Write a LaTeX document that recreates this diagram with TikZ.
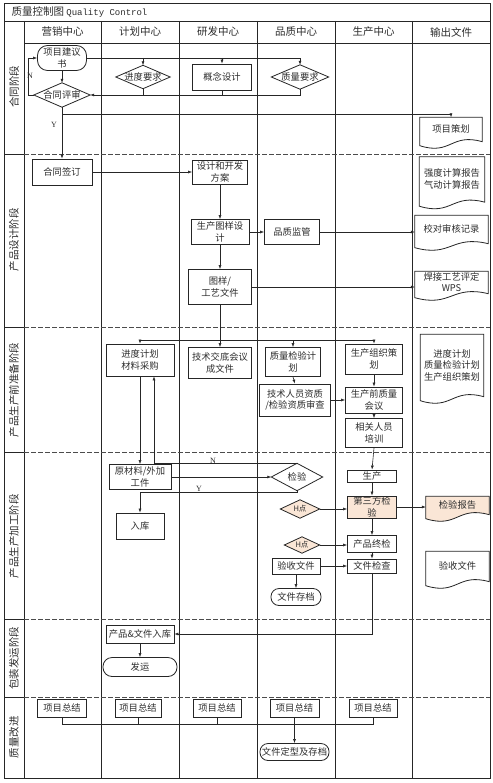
\documentclass[tikz,border=0pt]{standalone}
\usepackage{fontspec}
\setmainfont{Noto Sans CJK SC}
\newfontfamily\monoL{Liberation Mono}
\newfontfamily\serifL{Liberation Serif}
\usetikzlibrary{arrows.meta,calc}
\definecolor{beige}{RGB}{250,230,214}
\definecolor{ink}{RGB}{45,45,45}
\newcommand\fsN{\fontsize{9.3}{11.5}\selectfont}
\newcommand\fsH{\fontsize{10.5}{12}\selectfont}
\newcommand\fsS{\fontsize{7.5}{9}\selectfont}
\tikzset{
 grid/.style={line width=0.9pt, draw=black!85},
 sep/.style={line width=0.8pt, draw=black!70, dash pattern=on 5pt off 2pt},
 bx/.style={draw=black!85, line width=0.8pt, inner sep=1pt, align=center, font=\fsN, text=ink},
 ph/.style={rotate=90, font=\fsH, text=ink},
 hd/.style={font=\fsH, text=ink},
 ghost/.style={inner sep=0pt, draw=none},
 txt/.style={font=\fsN, text=ink, align=center, inner sep=0pt},
 arr/.style={line width=0.6pt, draw=black!85, -{Latex[length=4pt,width=3pt]}},
 ln/.style={line width=0.6pt, draw=black!85},
 lbl/.style={font=\serifL\fontsize{8}{9}\selectfont, text=ink, inner sep=1pt},
}
% diamond: [fill]{name}{x,y}{w}{h}{text}
\newcommand\dia[6][white]{%
 \node[ghost, minimum width=#4, minimum height=#5] (#2) at (#3) {};
 \draw[line width=0.8pt, draw=black!85, fill=#1] (#2.north) -- (#2.east) -- (#2.south) -- (#2.west) -- cycle;
 \node[txt] (#2t) at (#2.center) {#6};}
% document: [fill]{name}{x,y}{w}{h}{text}
\newcommand\docn[6][white]{%
 \node[ghost, minimum width=#4, minimum height=#5] (#2) at (#3) {};
 \draw[line width=0.8pt, draw=black!85, fill=#1] (#2.north west) -- (#2.north east) -- ([yshift=5pt]#2.south east) .. controls ([yshift=14pt]#2.south) and ([yshift=-9pt]#2.south) .. ([yshift=1pt]#2.south west) -- cycle;
 \node[txt] (#2t) at ([yshift=3pt]#2.center) {#6};}
\begin{document}
\begin{tikzpicture}[x=1pt,y=-1pt]
\useasboundingbox (0,0) rectangle (492,783);
\fill[white] (0,0) rectangle (492,783);
% grid
\draw[grid] (4,3) rectangle (490,778);
\draw[grid] (4,21) -- (490,21);
\draw[grid] (24,43) -- (490,43);
\foreach \x in {24,101,179,257,335,412} \draw[grid] (\x,21) -- (\x,778);
\foreach \y in {154,327,452,619,697} {\draw[grid] (4,\y) -- (24,\y); \draw[sep] (24,\y) -- (490,\y);}
% title and headers
\node[anchor=west, font=\fsH, text=ink] (title) at (8,12) {质量控制图 {\monoL\fontsize{9}{10}\selectfont Quality Control}};
\node[hd] (h1) at (62.5,32) {营销中心};
\node[hd] (h2) at (140,32) {计划中心};
\node[hd] (h3) at (218,32) {研发中心};
\node[hd] (h4) at (296,32) {品质中心};
\node[hd] (h5) at (373.5,32) {生产中心};
\node[hd] (h6) at (451,32) {输出文件};
% phase labels
\node[ph] (ph1) at (14,87) {合同阶段};
\node[ph] (ph2) at (14,240) {产品设计阶段};
\node[ph] (ph3) at (14,390) {产品生产前准备阶段};
\node[ph] (ph4) at (14,536) {产品生产加工阶段};
\node[ph] (ph5) at (14,658) {包装发运阶段};
\node[ph] (ph6) at (14,737) {质量改进};
% phase 1
\node[bx, rounded corners=10pt, minimum width=49pt, minimum height=25pt] (p1) at (62,58) {项目建议\\书};
\dia{r1}{62,95}{56pt}{24pt}{合同评审}
\dia{d1}{143,77}{54pt}{23pt}{进度要求}
\node[bx, minimum width=59pt, minimum height=26pt] (c1) at (222,77) {概念设计};
\dia{q1}{300,77}{57pt}{24pt}{质量要求}
\docn{dc1}{451,132}{62pt}{29pt}{项目策划}
% phase 2
\node[bx, minimum width=60pt, minimum height=26pt] (s1) at (62,172) {合同签订};
\node[bx, minimum width=55pt, minimum height=24pt] (f1) at (220,172) {设计和开发\\方案};
\node[bx, minimum width=58pt, minimum height=25pt] (g1) at (220,232) {生产图样设\\计};
\node[bx, minimum width=63pt, minimum height=35pt] (t1) at (220,287) {图样/\\工艺文件};
\node[bx, minimum width=55pt, minimum height=25pt] (m1) at (292,232) {品质监管};
\docn{dc2}{452,182}{65pt}{50pt}{强度计算报告\\气动计算报告}
\docn{dc3}{451.5,232}{73pt}{33pt}{校对审核记录}
\docn{dc4}{451.5,285}{73pt}{27pt}{焊接工艺评定\\WPS}
% phase 3
\node[bx, minimum width=68pt, minimum height=32pt] (j2) at (140,360) {进度计划\\材料采购};
\node[bx, minimum width=63pt, minimum height=31pt] (k2) at (220,363) {技术交底会议\\成文件};
\node[bx, minimum width=55pt, minimum height=29pt] (z2) at (293,362) {质量检验计\\划};
\node[bx, minimum width=71pt, minimum height=32pt] (z3) at (295,400) {技术人员资质\\/检验资质审查};
\node[bx, minimum width=57pt, minimum height=30pt] (o2) at (374,359) {生产组织策\\划};
\node[bx, minimum width=57pt, minimum height=26pt] (o3) at (374,400) {生产前质量\\会议};
\node[bx, minimum width=57pt, minimum height=29pt] (o4) at (374,433) {相关人员\\培训};
\docn{dc5}{452,368}{63pt}{67pt}{进度计划\\质量检验计划\\生产组织策划}
% phase 4
\node[bx, minimum width=62pt, minimum height=25pt] (y4) at (140,477) {原材料/外加\\工件};
\dia{jc}{297,477}{51pt}{27pt}{检验}
\node[bx, minimum width=48pt, minimum height=26pt] (rk) at (140,526) {入库};
\node[bx, minimum width=49pt, minimum height=12pt] (sc) at (372,476) {生产};
\node[bx, fill=beige, minimum width=49pt, minimum height=21pt] (dsf) at (372,507) {第三方检\\验};
\dia[beige]{H1}{300,509}{39pt}{18pt}{\fsS H点}
\dia[beige]{H2}{302,545}{35pt}{16pt}{\fsS H点}
\node[bx, minimum width=49pt, minimum height=17pt] (zj) at (372,544) {产品终检};
\node[bx, minimum width=48pt, minimum height=16pt] (ys) at (296,566) {验收文件};
\node[bx, minimum width=49pt, minimum height=14pt] (wc) at (372,566) {文件检查};
\node[bx, rounded corners=8pt, minimum width=50pt, minimum height=17pt] (cd) at (296,597) {文件存档};
\docn[beige]{dc6}{457.5,508}{63pt}{23pt}{检验报告}
\docn{dc7}{457.5,569}{63pt}{35pt}{验收文件}
% phase 5
\node[bx, minimum width=68pt, minimum height=18pt] (pk) at (140,634) {产品\&文件入库};
\node[bx, rounded corners=9pt, minimum width=74pt, minimum height=19pt] (fy) at (140,667) {发运};
% phase 6
\node[bx, minimum width=49pt, minimum height=18pt] (z1) at (62,708) {项目总结};
\node[bx, minimum width=46pt, minimum height=18pt] (zz2) at (138,708) {项目总结};
\node[bx, minimum width=48pt, minimum height=18pt] (zz3) at (217,708) {项目总结};
\node[bx, minimum width=49pt, minimum height=18pt] (zz4) at (294.5,708) {项目总结};
\node[bx, minimum width=48pt, minimum height=18pt] (zz5) at (373,708) {项目总结};
\node[bx, rounded corners=8pt, minimum width=69pt, minimum height=17pt] (wd) at (294.5,752) {文件定型及存档};
% coordinates
\coordinate (jA) at (62,114);
\coordinate (jB) at (220,340);
\coordinate (hA) at (62,724);
\coordinate (hB) at (373,724);
% connectors phase 1
\draw[arr] (p1.east) -| (q1.north);
\draw[arr] (d1.north |- p1.east) -- (d1.north);
\draw[arr] (c1.north |- p1.east) -- (c1.north);
\draw[arr] (q1.south) |- (r1.east);
\draw[ln] (d1.south) -- (d1.south |- r1.east);
\draw[ln] (c1.south) -- (c1.south |- r1.east);
\draw[arr] (r1.west) -- ++(-6,0) |- (p1.west);
\node[lbl] (nN1) at (30,76) {N};
\draw[arr] (p1.south) -- (r1.north);
\draw[arr] (r1.south) -- (s1.north);
\node[lbl] (nY1) at (54,125) {Y};
\draw[arr] (jA) -| (dc1.north);
% phase 2
\draw[arr] (s1.east) -- (f1.west);
\draw[arr] (f1.south) -- (g1.north);
\draw[arr] (g1.south) -- (t1.north);
\draw[arr] (g1.east) -- (m1.west);
\draw[arr] (m1.east) -- (m1.east -| dc3.west);
\draw[arr] (t1.east) -- (t1.east -| dc4.west);
% phase 3
\draw[arr] (t1.south) -- (k2.north);
\draw[arr] (jB) -| (j2.north);
\draw[arr] (jB) -| (o2.north);
\draw[arr] (z2.north |- jB) -- (z2.north);
\draw[arr] (z2.south) -- (z3.north);
\draw[arr] (z3.east) -- (z3.east -| o3.west);
\draw[arr] (o2.south) -- (o3.north);
\draw[arr] (o3.south) -- (o4.north);
\draw[arr] (o4.south) -- (sc.north);
% phase 4
\draw[arr] (j2.south) -- (y4.north);
\draw[arr] (jc.north) -| ([xshift=14pt]j2.south);
\node[lbl] (nN2) at (213,461) {N};
\draw[arr] (y4.east) -- (jc.west);
\draw[arr] (jc.south) -- ++(0,2) -| (rk.north);
\node[lbl] (nY2) at (199,489) {Y};
\draw[arr] (sc.south) -- (dsf.north);
\draw[arr] (dsf.south) -- (zj.north);
\draw[arr] (zj.south) -- (wc.north);
\draw[arr] (dsf.east) -- (dsf.east -| dc6.west);
\draw[arr] (H1.east) -- (H1.east -| dsf.west);
\draw[arr] (H2.east) -- (H2.east -| zj.west);
\draw[arr] (ys.east) -- (wc.west);
\draw[arr] (ys.south) -- (cd.north);
\draw[arr] (wc.south) |- (pk.east);
% phase 5
\draw[arr] (pk.south) -- (fy.north);
% phase 6
\draw[ln] (z1.south) -- (hA) -- (hB) -- (zz5.south);
\draw[ln] (zz2.south) -- (zz2.south |- hA);
\draw[ln] (zz3.south) -- (zz3.south |- hA);
\draw[arr] (zz4.south) -- (wd.north);
\end{tikzpicture}
\end{document}
